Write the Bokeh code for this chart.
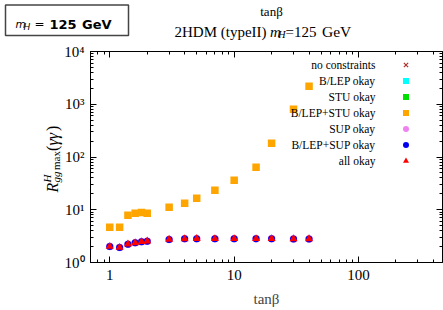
import math
from bokeh.plotting import figure
from bokeh.models import (Range1d, FixedTicker, LogAxis, Label, Legend, LegendItem,
                          ColumnDataSource)
from bokeh.embed import file_html
from bokeh.resources import INLINE

# ---------------- data ----------------
tan_beta = [1, 1.2, 1.4, 1.6, 1.8, 2, 3, 4, 5, 7, 10, 15, 20, 30, 40]
r_blep_stu = [4.67, 4.67, 7.9, 8.6, 8.9, 8.6, 11.2, 13.3, 16.5, 23.5, 36.3, 64, 183, 800, 2200]
r_all_okay = [2.01, 1.92, 2.22, 2.36, 2.47, 2.53, 2.73, 2.81, 2.83, 2.82, 2.82, 2.82, 2.82, 2.80, 2.80]

series_names = ["no constraints", "B/LEP okay", "STU okay", "B/LEP+STU okay",
                "SUP okay", "B/LEP+SUP okay", "all okay"]
x_major = [1, 10, 100]
x_major_labels = ["1", "10", "100"]
y_major = [1, 10, 100, 1000, 10000]
y_major_labels = ["10\u2070", "10\u00b9", "10\u00b2", "10\u00b3", "10\u2074"]

SERIF = "Liberation Serif"
SANS = "DejaVu Sans"

XR = (0.7, 473)
YR = (1, 1e4)
FR_L, FR_T, FR_R, FR_B = 90, 51, 442, 262  # frame edges in page pixels

p = figure(width=443, height=310, x_axis_type="log", y_axis_type="log",
           x_range=Range1d(*XR), y_range=Range1d(*YR),
           output_backend="svg", toolbar_location=None,
           min_border_left=FR_L, min_border_right=443 - FR_R, min_border_top=FR_T,
           min_border_bottom=310 - FR_B)
p.xgrid.visible = False
p.ygrid.visible = False
p.outline_line_color = "black"
p.outline_line_width = 1
p.background_fill_color = "white"
p.border_fill_color = "white"

x_minor = [m * 10 ** k for k in range(-1, 3) for m in range(2, 10) if XR[0] <= m * 10 ** k <= XR[1]]
y_minor = [m * 10 ** k for k in range(0, 4) for m in range(2, 10)]


def style_axis(ax, ticks, labels=None):
    ax.axis_line_color = "black"
    ax.major_tick_in = 6
    ax.major_tick_out = 0
    ax.minor_tick_in = 3
    ax.minor_tick_out = 0
    ax.major_tick_line_color = "black"
    ax.minor_tick_line_color = "black"
    ax.major_label_text_font = SERIF
    ax.major_label_text_color = "black"
    if labels is None:
        ax.major_label_overrides = {v: " " for v in ticks}
        ax.major_label_text_font_size = "2px"
        ax.major_label_text_alpha = 0
        ax.major_label_standoff = 0
    else:
        ax.major_label_overrides = {v: s for v, s in zip(ticks, labels)}
        ax.major_label_text_font_size = "15px"


xa = p.xaxis[0]
xa.ticker = FixedTicker(ticks=x_major, minor_ticks=x_minor)
style_axis(xa, x_major, x_major_labels)
xa.major_label_standoff = 7
xa.axis_label = "tan\u03b2"
xa.axis_label_text_font = SERIF
xa.axis_label_text_font_style = "normal"
xa.axis_label_text_font_size = "15px"
xa.axis_label_standoff = 8

ya = p.yaxis[0]
ya.ticker = FixedTicker(ticks=y_major, minor_ticks=y_minor)
style_axis(ya, y_major, y_major_labels)
ya.major_label_standoff = 6

top = LogAxis(ticker=FixedTicker(ticks=x_major, minor_ticks=x_minor))
style_axis(top, x_major)
p.add_layout(top, "above")
right = LogAxis(ticker=FixedTicker(ticks=y_major, minor_ticks=y_minor))
style_axis(right, y_major)
p.add_layout(right, "right")

# ---------------- data glyphs ----------------
r0 = p.scatter(tan_beta, r_blep_stu, marker="x", size=5, line_color="#B0302A", line_width=1.2)
r1 = p.scatter(tan_beta, r_blep_stu, marker="square", size=6, fill_color="#00FFFF", line_color=None)
r2 = p.scatter(tan_beta, r_blep_stu, marker="square", size=6, fill_color="#00E000", line_color=None)
r3 = p.scatter(tan_beta, r_blep_stu, marker="square", size=7.5, fill_color="#FFA500", line_color=None)
r4 = p.scatter(tan_beta, r_all_okay, marker="circle", size=7.5, fill_color="#EE82EE", line_color=None)
r5 = p.scatter(tan_beta, r_all_okay, marker="circle", size=7, fill_color="#0000EE", line_color=None)
r6 = p.scatter(tan_beta, r_all_okay, marker="triangle", size=8, fill_color="#FF0000", line_color=None)
renderers = [r0, r1, r2, r3, r4, r5, r6]

# legend: glyph column on the right, texts as labels to its left
legend = Legend(items=[LegendItem(label=" ", renderers=[r]) for r in renderers],
                location=(307.5, 94), glyph_width=15, glyph_height=15, label_height=15,
                label_width=1, label_standoff=0, spacing=1, padding=0, margin=0,
                label_text_font_size="2px", label_text_alpha=0, border_line_color=None,
                background_fill_alpha=0)
p.add_layout(legend)

row0 = 64.5
for i, name in enumerate(series_names):
    p.add_layout(Label(x=375 - FR_L, y=FR_B - (row0 + 16 * i), x_units="screen",
                       y_units="screen", text=name, text_font=SERIF,
                       text_font_size="11.5px", text_align="right",
                       text_baseline="middle", text_color="black"))


# ---------------- texts outside the frame (text glyph anchored at the frame's top-left) ----
def x_at(X):
    lo, hi = math.log10(XR[0]), math.log10(XR[1])
    return 10 ** (lo + (X - FR_L) / (FR_R - FR_L) * (hi - lo))


def y_at(Y):
    lo, hi = math.log10(YR[0]), math.log10(YR[1])
    return 10 ** (lo + (FR_B - Y) / (FR_B - FR_T) * (hi - lo))


# m_H box
p.quad(left=[x_at(5)], right=[x_at(128)], top=[y_at(4.5)], bottom=[y_at(35)],
       fill_color="white", line_color="#444444", line_width=1.5, level="overlay")

A = math.pi / 2
pieces = [
    # text, X, Y, size, style, font, align, angle
    ("m", 15, 23.5, 10.5, "italic", SANS, "left", 0.0),
    ("H", 23, 26.5, 9, "italic", SANS, "left", 0.0),
    ("=", 34, 23.5, 12, "normal", SANS, "left", 0.0),
    ("125", 49, 23.5, 13, "bold", SANS, "left", 0.0),
    ("GeV", 81.5, 23.5, 13, "bold", SANS, "left", 0.0),
    ("2HDM (typeII) ", 174, 31, 15, "normal", SERIF, "left", 0.0),
    ("m", 269.5, 31, 15, "italic", SERIF, "left", 0.0),
    ("H", 277.5, 34, 10.5, "italic", SERIF, "left", 0.0),
    ("=125", 285, 31, 15, "normal", SERIF, "left", 0.0),
    ("GeV", 321.5, 31, 15.5, "normal", SERIF, "left", 0.0),
    ("tan\u03b2", 271, 10.5, 13, "normal", SERIF, "center", 0.0),
    ("R", 52, 192, 16, "italic", SERIF, "left", A),
    ("H", 46, 182, 11, "italic", SERIF, "left", A),
    ("gg", 55, 182, 11, "italic", SERIF, "left", A),
    ("max", 55, 169.5, 11, "normal", SERIF, "left", A),
    ("(", 52, 150.5, 16, "normal", SERIF, "left", A),
    ("\u03b3\u03b3", 52, 145, 16, "italic", SERIF, "left", A),
    (")", 52, 130.5, 16, "normal", SERIF, "left", A),
]
src = ColumnDataSource(dict(
    x=[XR[0]] * len(pieces), y=[YR[1]] * len(pieces),
    text=[t[0] for t in pieces],
    xo=[t[1] - FR_L for t in pieces], yo=[t[2] - FR_T for t in pieces],
    size=[f"{t[3]}px" for t in pieces], style=[t[4] for t in pieces],
    font=[t[5] for t in pieces], align=[t[6] for t in pieces],
    angle=[t[7] for t in pieces],
))
p.text(x="x", y="y", text="text", x_offset="xo", y_offset="yo",
       text_font_size="size", text_font_style="style", text_font="font",
       text_align="align", text_baseline="alphabetic", angle="angle",
       text_color="black", source=src, level="overlay")

open("out.html", "w").write(file_html(p, INLINE))
